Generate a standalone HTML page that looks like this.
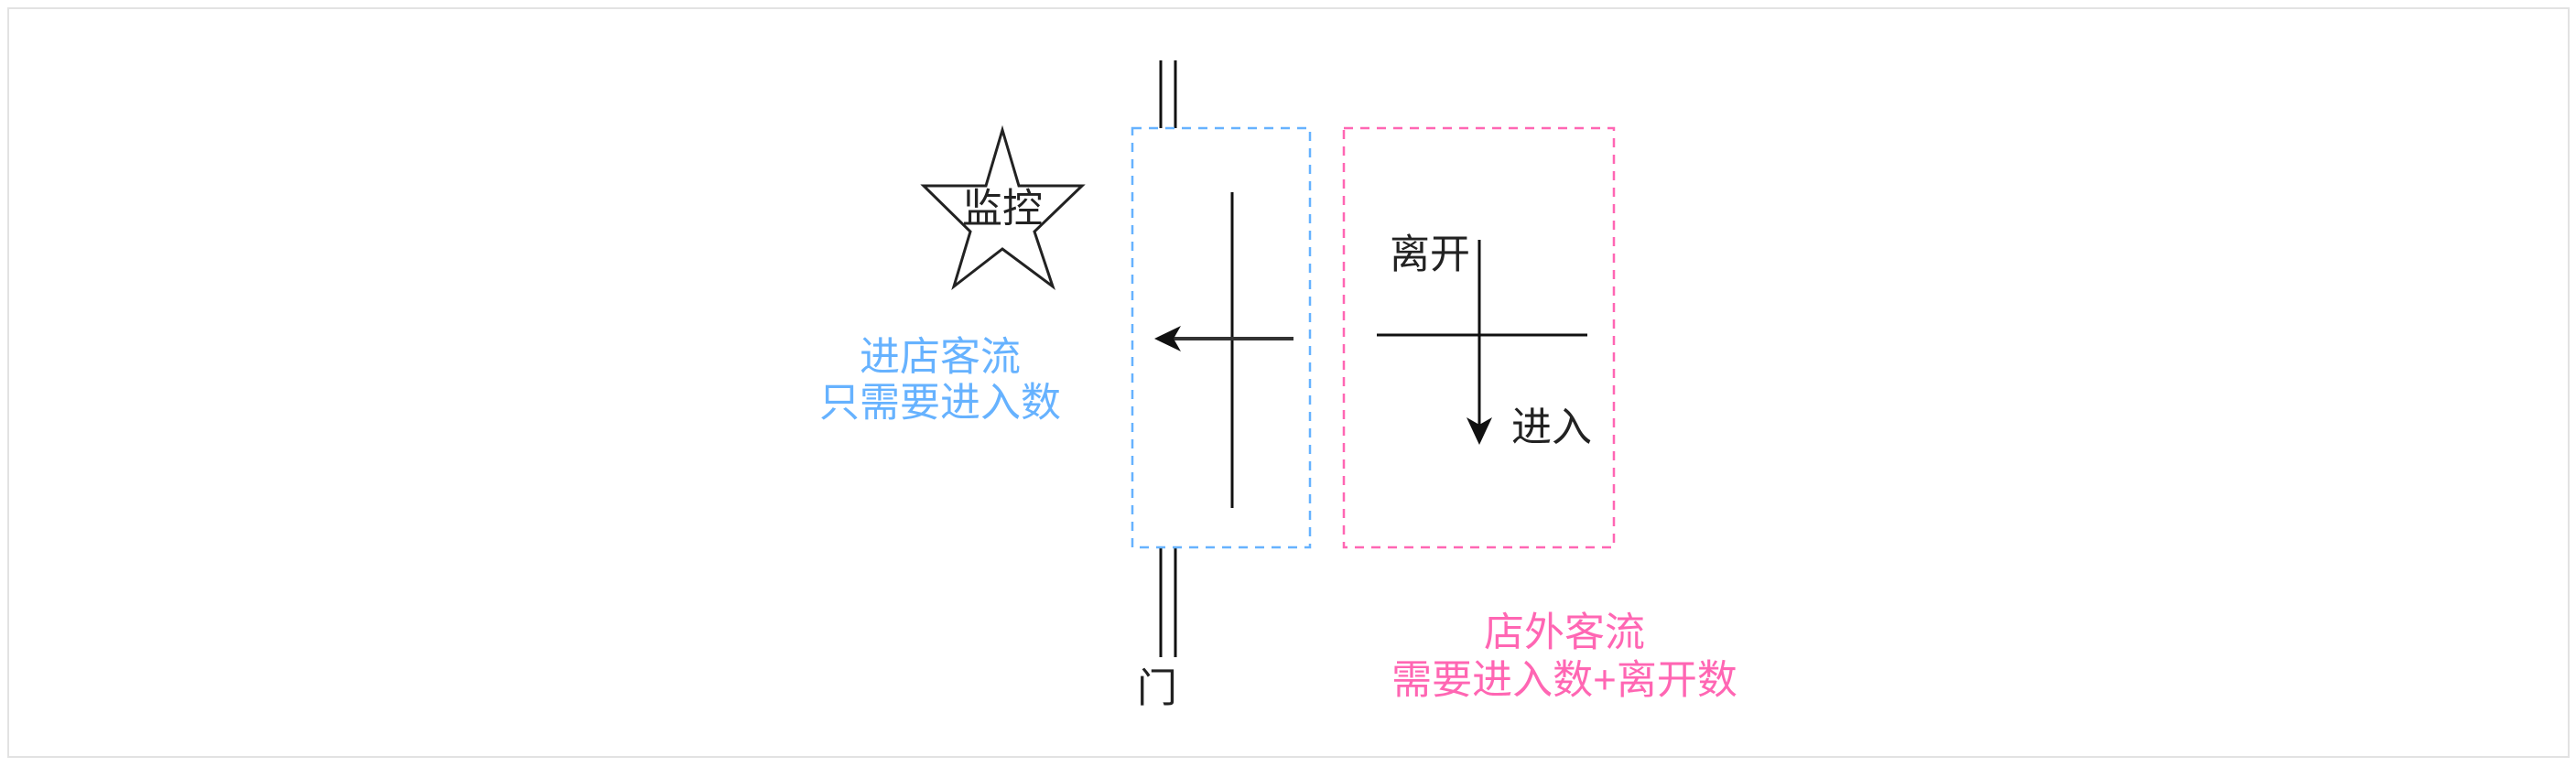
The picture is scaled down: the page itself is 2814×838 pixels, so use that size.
<!DOCTYPE html>
<html><head><meta charset="utf-8"><style>
html,body{margin:0;padding:0;background:#fff;}
svg{display:block;}
text{font-family:"Liberation Sans","Noto Sans CJK SC",sans-serif;font-size:44px;text-anchor:middle;dominant-baseline:central;}
</style></head><body>
<svg width="2814" height="838" viewBox="0 0 2814 838" xmlns="http://www.w3.org/2000/svg">
<rect x="9" y="9" width="2797" height="818" fill="#fff" stroke="#e2e2e2" stroke-width="2"/>
<line x1="1268" y1="66" x2="1268" y2="140" stroke="#111" stroke-width="3"/>
<line x1="1284" y1="66" x2="1284" y2="140" stroke="#111" stroke-width="3"/>
<line x1="1268" y1="598" x2="1268" y2="718" stroke="#111" stroke-width="3"/>
<line x1="1284" y1="598" x2="1284" y2="718" stroke="#111" stroke-width="3"/>
<text x="1264" y="752" fill="#222">门</text>
<rect x="1237" y="140" width="194" height="458" fill="none" stroke="#66b2ff" stroke-width="2.5" stroke-dasharray="10,8"/>
<line x1="1346" y1="210" x2="1346" y2="555" stroke="#111" stroke-width="3"/>
<line x1="1413" y1="370" x2="1280" y2="370" stroke="#333" stroke-width="4"/>
<polygon points="1261,370 1290,356 1282,370 1290,384" fill="#111"/>
<rect x="1468" y="140" width="295" height="458" fill="none" stroke="#ff66b3" stroke-width="2.5" stroke-dasharray="10,8"/>
<line x1="1504" y1="366" x2="1734" y2="366" stroke="#111" stroke-width="3"/>
<line x1="1616" y1="262" x2="1616" y2="470" stroke="#111" stroke-width="3"/>
<polygon points="1616,486 1602,456 1616,464 1630,456" fill="#111"/>
<text x="1562" y="278" fill="#222">离开</text>
<text x="1695" y="467" fill="#222">进入</text>
<polygon points="1095,142 1113,203 1182,203 1130,253 1150,313 1095,272 1042,313 1060,253 1009,203 1077,203" fill="none" stroke="#222" stroke-width="3" stroke-linejoin="miter"/>
<text x="1095" y="228" fill="#222">监控</text>
<text x="1027" y="390" fill="#66b2ff">进店客流</text>
<text x="1027" y="440" fill="#66b2ff">只需要进入数</text>
<text x="1709" y="691" fill="#ff66b3">店外客流</text>
<text x="1709" y="743" fill="#ff66b3">需要进入数+离开数</text>
</svg>
</body></html>
